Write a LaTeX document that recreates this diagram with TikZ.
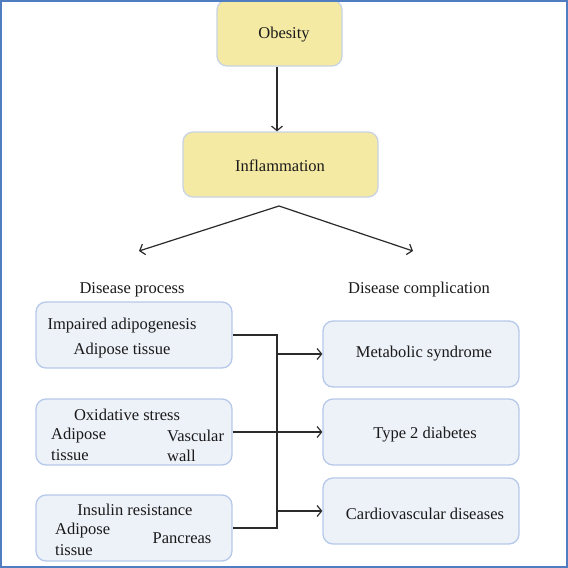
\documentclass[tikz,border=0pt]{standalone}
\usepackage{fontspec}
\setmainfont{Liberation Serif}
\usetikzlibrary{arrows.meta}
\definecolor{framecol}{HTML}{4F7EC0}
\definecolor{yelfill}{HTML}{F5EAA4}
\definecolor{yelline}{HTML}{C8D3E4}
\definecolor{bluefill}{HTML}{EDF1F8}
\definecolor{blueline}{HTML}{B6C9EA}
\definecolor{conncol}{HTML}{2B2B2B}
\definecolor{txtcol}{HTML}{1A1A1A}
\begin{document}
\begin{tikzpicture}[x=1pt,y=-1pt,
  every node/.style={font=\fontsize{16.5}{18}\selectfont, inner sep=0pt},
  txt/.style={text=txtcol, yshift=-2.5pt},
  yelbox/.style={draw=yelline, fill=yelfill, line width=1.3pt, rounded corners=10pt},
  bluebox/.style={draw=blueline, fill=bluefill, line width=1.3pt, rounded corners=10pt},
  conn/.style={draw=conncol, line width=1.2pt},
  arr/.style={conn, -{Straight Barb[length=4.5pt,width=11pt,line width=1.2pt]}}
]
\useasboundingbox (0,0) rectangle (568,568);
\fill[white] (0,0) rectangle (568,568);
% top boxes
\node[yelbox, minimum width=125pt, minimum height=66pt] (ob) at (279.5,33) {};
\node[txt] (obt) at (284,32) {Obesity};
\node[yelbox, minimum width=195pt, minimum height=65pt] (inf) at (280.5,164.5) {};
\node[txt] (inft) at (280,163) {Inflammation};
% section labels
\node[txt] (dp) at (132,287) {Disease process};
\node[txt] (dc) at (419,287) {Disease complication};
% left boxes
\node[bluebox, minimum width=196pt, minimum height=66pt] (p1) at (134,335) {};
\node[txt] (p1a) at (122,323) {Impaired adipogenesis};
\node[txt] (p1b) at (122,348) {Adipose tissue};
\node[bluebox, minimum width=196pt, minimum height=66pt] (p2) at (134,432) {};
\node[txt] (p2a) at (127,412) {Oxidative stress};
\node[txt, anchor=west] (p2b) at (51,433) {Adipose};
\node[txt, anchor=west] (p2c) at (51,453) {tissue};
\node[txt, anchor=west] (p2d) at (167,433) {Vascular};
\node[txt, anchor=west] (p2e) at (167,453) {wall};
\node[bluebox, minimum width=196pt, minimum height=66pt] (p3) at (134,528) {};
\node[txt] (p3a) at (135,507) {Insulin resistance};
\node[txt, anchor=west] (p3b) at (55,528) {Adipose};
\node[txt, anchor=west] (p3c) at (55,548) {tissue};
\node[txt] (p3d) at (182,536) {Pancreas};
% right boxes
\node[bluebox, minimum width=196pt, minimum height=66pt] (c1) at (421,354) {};
\node[txt] (c1t) at (424,351) {Metabolic syndrome};
\node[bluebox, minimum width=196pt, minimum height=66pt] (c2) at (421,432) {};
\node[txt] (c2t) at (425,432) {Type 2 diabetes};
\node[bluebox, minimum width=196pt, minimum height=66pt] (c3) at (421,511) {};
\node[txt] (c3t) at (425,511) {Cardiovascular diseases};
% connectors
\coordinate (obx) at (277,0);
\draw[arr] (ob.south -| obx) -- (inf.north -| obx);
\coordinate (apex) at (279,206);
\coordinate (dl) at (139,251);
\coordinate (dr) at (413,251);
\draw[arr] (apex) -- (dl);
\draw[arr] (apex) -- (dr);
\coordinate (busx) at (277,0);
\draw[conn] (p1.east) -- (p1.east -| busx) -- (p3.east -| busx) -- (p3.east);
\draw[arr] (p2.east) -- (c2.west);
\draw[arr] (c1.west -| busx) -- (c1.west);
\draw[arr] (c3.west -| busx) -- (c3.west);
% frame
\draw[framecol, line width=2pt] (1,1) rectangle (567,567);
\end{tikzpicture}
\end{document}
